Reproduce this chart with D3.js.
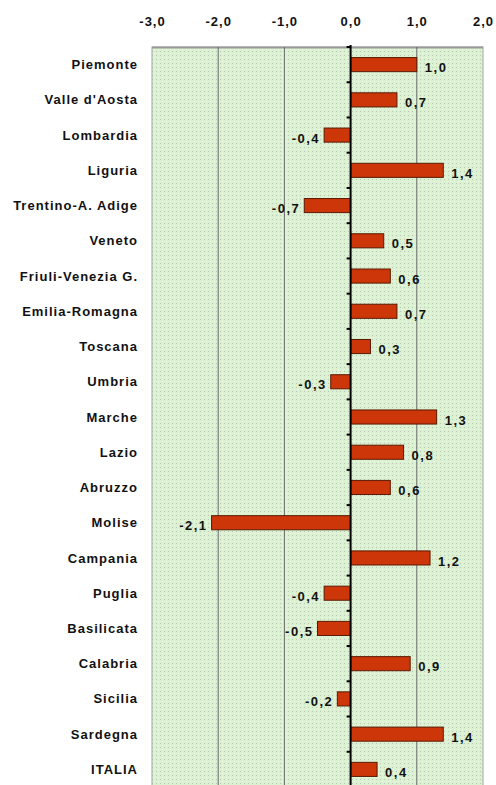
<!DOCTYPE html>
<html>
<head>
<meta charset="utf-8">
<script src="https://cdn.jsdelivr.net/npm/d3@7"></script>
<style>
    body { margin: 0; background: #fff; }
    svg { display: block; }
</style>
</head>
<body>
<svg id="chart" width="496" height="785"></svg>
<script>
// regions and variation values
const regions = ["Piemonte", "Valle d'Aosta", "Lombardia", "Liguria", "Trentino-A. Adige",
    "Veneto", "Friuli-Venezia G.", "Emilia-Romagna", "Toscana", "Umbria", "Marche",
    "Lazio", "Abruzzo", "Molise", "Campania", "Puglia", "Basilicata", "Calabria",
    "Sicilia", "Sardegna", "ITALIA"];
const values = [1.0, 0.7, -0.4, 1.4, -0.7, 0.5, 0.6, 0.7, 0.3, -0.3, 1.3,
    0.8, 0.6, -2.1, 1.2, -0.4, -0.5, 0.9, -0.2, 1.4, 0.4];
const xTicks = [-3, -2, -1, 0, 1, 2];

const data = regions.map((r, i) => ({region: r, value: values[i]}));

const it = d3.formatLocale({decimal: ",", thousands: ".", grouping: [3], currency: ["", ""], minus: "-"});
const fmt = it.format(".1f");
const FONT = "'Liberation Sans', Arial, sans-serif";

let svg = d3.select("#chart");
let margin = {top: 47, right: 13, bottom: -2, left: 152};
let width = +svg.attr("width") - margin.left - margin.right;
let height = +svg.attr("height") - margin.top - margin.bottom;

// dotted green background
let defs = svg.append("defs");
let pat = defs.append("pattern")
    .attr("id", "bg")
    .attr("width", 4).attr("height", 4)
    .attr("patternUnits", "userSpaceOnUse");
pat.append("rect").attr("width", 4).attr("height", 4).attr("fill", "#daf2cf");
pat.append("rect").attr("x", 0).attr("y", 0).attr("width", 1).attr("height", 1).attr("fill", "#bcc6b8");
pat.append("rect").attr("x", 2).attr("y", 2).attr("width", 1).attr("height", 1).attr("fill", "#eef8ea");

let x = d3.scaleLinear()
    .domain([-3, 2])
    .range([0, width]);

let y = d3.scaleBand()
    .domain(regions)
    .range([0, height])
    .paddingInner(0.6)
    .paddingOuter(0.3);

let g = svg.append("g")
    .attr("transform", `translate(${margin.left},${margin.top})`);

g.append("rect")
    .attr("width", width)
    .attr("height", height)
    .attr("fill", "url(#bg)")
    .attr("stroke", "#a0a8a0")
    .attr("stroke-width", 1);

// top border, a bit heavier
g.append("line")
    .attr("x1", 0).attr("x2", width)
    .attr("y1", 0.5).attr("y2", 0.5)
    .attr("stroke", "#9a9a9a")
    .attr("stroke-width", 2);

// gridlines
g.selectAll(".grid")
    .data(xTicks.filter(d => d !== 0 && d !== -3 && d !== 2))
    .enter().append("line")
    .attr("class", "grid")
    .attr("x1", d => x(d)).attr("x2", d => x(d))
    .attr("y1", 0).attr("y2", height)
    .attr("stroke", "#6a6a6a")
    .attr("stroke-width", 1);

// x axis on top
g.append("g")
    .attr("class", "axis axis-x")
    .attr("transform", "translate(0,-18)")
    .call(d3.axisTop(x).tickValues(xTicks).tickFormat(fmt).tickSize(0))
    .call(g => g.select(".domain").remove())
    .call(g => g.selectAll(".tick text")
        .style("font-family", FONT)
        .style("font-size", "13px")
        .style("font-weight", "bold")
        .style("letter-spacing", "1px")
        .style("fill", "#111"));

// bars
g.selectAll(".bar")
    .data(data)
    .enter().append("rect")
    .attr("class", "bar")
    .attr("x", d => x(Math.min(0, d.value)))
    .attr("y", d => y(d.region))
    .attr("width", d => Math.abs(x(d.value) - x(0)))
    .attr("height", y.bandwidth())
    .attr("fill", "#cc3608")
    .attr("stroke", "#5a1a04")
    .attr("stroke-width", 1);

// zero axis with ticks at category boundaries
g.append("line")
    .attr("x1", x(0)).attr("x2", x(0))
    .attr("y1", -2).attr("y2", height)
    .attr("stroke", "#000")
    .attr("stroke-width", 2);

let step = y.step();
let bounds = d3.range(regions.length + 1).map(k => y(regions[0]) - step * 0.3 + k * step);
g.selectAll(".ytick")
    .data(bounds)
    .enter().append("line")
    .attr("class", "ytick")
    .attr("x1", x(0) - 4).attr("x2", x(0))
    .attr("y1", d => d).attr("y2", d => d)
    .attr("stroke", "#000")
    .attr("stroke-width", 2);

// category labels
g.selectAll(".cat")
    .data(data)
    .enter().append("text")
    .attr("class", "cat")
    .attr("x", -14)
    .attr("y", d => y(d.region) + y.bandwidth() / 2)
    .attr("dy", "0.35em")
    .attr("text-anchor", "end")
    .style("font-family", FONT)
    .style("font-size", "13px")
    .style("font-weight", "bold")
    .style("letter-spacing", "1px")
    .style("fill", "#111")
    .text(d => d.region);

// value labels
g.selectAll(".val")
    .data(data)
    .enter().append("text")
    .attr("class", "val")
    .attr("x", d => d.value >= 0 ? x(d.value) + 8 : x(d.value) - 4)
    .attr("y", d => y(d.region) + y.bandwidth() / 2 + 3)
    .attr("dy", "0.35em")
    .attr("text-anchor", d => d.value >= 0 ? "start" : "end")
    .style("font-family", FONT)
    .style("font-size", "13px")
    .style("font-weight", "bold")
    .style("letter-spacing", "1.5px")
    .style("fill", "#111")
    .text(d => fmt(d.value));
</script>
</body>
</html>
